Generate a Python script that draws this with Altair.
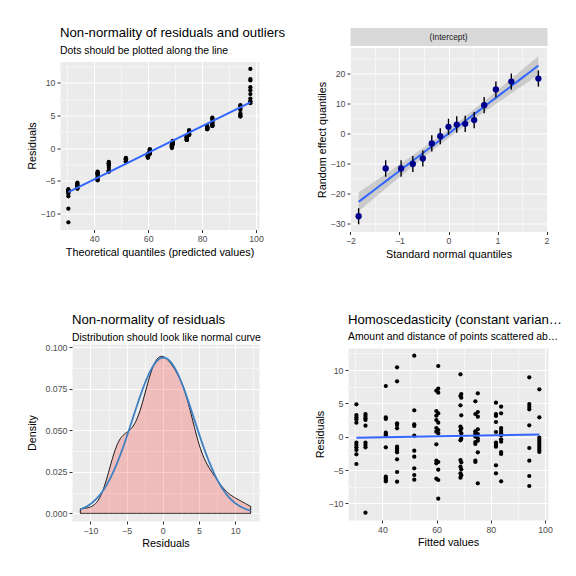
import altair as alt
import pandas as pd
import numpy as np

FONT = "Liberation Sans"

# ---------------- data ----------------
# fitted value of each group (x of the vertical point columns)
group_fitted = [30.4, 33.75, 41.25, 45.4, 51.75, 59.9, 60.6, 68.8, 69.1,
                74.3, 75.2, 81.9, 83.8, 94.2, 97.9]
# residuals of the observations in each group
group_residuals = [
    [4.85, 3.25, 2.9, 2.6, 2.1, -0.9, -1.25, -1.6, -2.0, -2.65, -4.1],
    [3.4, 3.1, 2.75, 2.5, 1.65, -0.9, -1.25, -1.6, -11.4],
    [7.6, 2.9, 2.65, 0.6, 0.4, 0.2, -1.6, -6.0, -6.25, -6.5, -6.7],
    [10.4, 8.3, 2.0, 1.75, 1.25, -1.5, -1.8, -2.1, -2.35, -3.4, -5.3, -6.75],
    [12.15, 3.95, 1.85, 1.6, 0.15, -2.1, -3.0, -4.75, -5.75, -6.45],
    [6.9, 3.85, 3.15, 2.5, 1.3, 0.75, -1.15, -3.6, -4.0, -6.3],
    [10.6, 7.2, 6.6, 3.5, 2.1, 1.0, 0.5, -3.8, -4.95, -6.5, -9.3],
    [9.35, 6.1, 4.7, 1.5, 0.9, -0.55, -3.5, -4.5, -5.5, -6.15],
    [6.4, 5.85, 3.2, 1.25, 0.5, -0.3, -3.85, -4.9, -5.8],
    [5.3, 3.4, 0.3, 0.6, 0.8, 0.0, -0.8, -1.1, -3.6, -3.8],
    [6.5, 3.7, 3.0, 1.1, 0.4, -0.25, -0.6, -2.35, -7.0],
    [5.1, 3.4, 3.1, 2.2, 0.7, -0.9, -1.25, -1.5, -4.3, -5.5],
    [4.5, 3.5, 0.2, 1.3, 0.9, 0.5, -0.75, -0.4, -2.3, -2.6, -6.7],
    [8.9, 4.9, 4.5, 4.1, 1.7, -1.7, -3.6, -5.9, -7.4],
    [7.1, 2.9, -0.15, -0.5, -0.8, -1.1, -1.4, -1.7, -2.0, -2.3],
]

# random effects (Intercept): standard normal quantiles, estimates, error half-widths
re_quantiles = [-1.834, -1.282, -0.967, -0.728, -0.524, -0.341, -0.168, 0.0,
                0.168, 0.341, 0.524, 0.728, 0.967, 1.282, 1.834]
re_estimates = [-27.7, -11.7, -11.7, -10.2, -8.35, -3.3, -0.9, 2.25,
                3.0, 3.25, 4.5, 9.5, 14.75, 17.4, 18.4]
re_errors = [2.7, 2.75, 2.75, 2.7, 2.7, 2.75, 2.7, 2.7,
             2.75, 2.7, 2.7, 2.75, 2.7, 2.7, 2.7]
strip_label = "(Intercept)"

# ---------------- tables ----------------
fitted = [f for f, rs in zip(group_fitted, group_residuals) for _ in rs]
residuals = [r for rs in group_residuals for r in rs]
obs = pd.DataFrame({"fitted": fitted, "residual": residuals})
qq = pd.DataFrame({"x": sorted(fitted), "y": sorted(residuals)})

re_df = pd.DataFrame({"x": re_quantiles, "y": re_estimates,
                      "lo": [y - e for y, e in zip(re_estimates, re_errors)],
                      "hi": [y + e for y, e in zip(re_estimates, re_errors)]})
# lm fit with 95% confidence band (as stat_smooth(method = "lm"))
xq = np.array(re_quantiles); yq = np.array(re_estimates)
n = len(xq)
b1, b0 = np.polyfit(xq, yq, 1)
s = np.sqrt(np.sum((yq - (b0 + b1 * xq)) ** 2) / (n - 2))
sxx = np.sum((xq - xq.mean()) ** 2)
gx = np.linspace(xq.min(), xq.max(), 80)
fit = b0 + b1 * gx
se = s * np.sqrt(1 / n + (gx - xq.mean()) ** 2 / sxx)
t975 = 2.160  # t quantile, 13 df
band = pd.DataFrame({"x": gx, "fit": fit, "lo": fit - t975 * se, "hi": fit + t975 * se})

res = np.array(residuals)
iqr = np.subtract(*np.percentile(res, [75, 25]))
bw = 0.9 * min(res.std(ddof=1), iqr / 1.34) * len(res) ** (-0.2)
rmin, rmax = float(res.min()), float(res.max())

# ---------------- styling helpers ----------------
def ax(title, values, major, fmt=None, title_pad=3):
    kw = dict(title=title, values=values, grid=True, gridColor="white",
              gridWidth={"condition": {"test": major, "value": 1.1}, "value": 0.5},
              tickOpacity={"condition": {"test": major, "value": 1}, "value": 0},
              labelExpr=f"({major}) ? datum.label : ''",
              labelFlush=False, labelOverlap=False, domain=False,
              tickColor="#333333", tickSize=3, tickWidth=1,
              labelColor="#4D4D4D", labelFontSize=8.8, labelFont=FONT, labelPadding=2,
              titleFont=FONT, titleFontSize=10.8, titleFontWeight="normal",
              titleColor="black", titlePadding=title_pad)
    if fmt:
        kw["format"] = fmt
    return alt.Axis(**kw)

def ttl(text, sub, offset, limit=0):
    kw = dict(text=text, subtitle=sub, anchor="start", frame="group",
              font=FONT, fontSize=13.2, fontWeight="normal", color="black",
              subtitleFont=FONT, subtitleFontSize=10.4, subtitleColor="black",
              subtitlePadding=5, offset=offset)
    if limit:
        kw["limit"] = limit
    return alt.TitleParams(**kw)

BG = alt.ViewBackground(fill="#EBEBEB", stroke="transparent")
NOBG = alt.ViewBackground(fill="transparent", stroke="transparent")
BLUE = "#3366FF"

def spacer(w, h):
    return alt.Chart(pd.DataFrame({"s": [0]})).mark_point(size=0, opacity=0).properties(
        width=w, height=h, view=NOBG)

res_x_vals = [30, 40, 50, 60, 70, 80, 90, 100]
res_y_vals = [-10, -7.5, -5, -2.5, 0, 2.5, 5, 7.5, 10, 12.5]
maj20 = "datum.value % 20 === 0"
maj5 = "datum.value % 5 === 0"

# ---------------- panel 1: QQ of residuals ----------------
x1 = alt.X("x:Q", scale=alt.Scale(domain=[27.3, 101.1], nice=False, zero=False),
           axis=ax("Theoretical quantiles (predicted values)", res_x_vals, maj20))
y1 = alt.Y("y:Q", scale=alt.Scale(domain=[-12.5, 13.3], nice=False, zero=False),
           axis=ax("Residuals", res_y_vals, maj5))
p1_pts = alt.Chart(qq).mark_circle(size=18, color="black", opacity=1).encode(x=x1, y=y1)
p1_line = alt.Chart(qq).transform_regression("x", "y").mark_line(
    color=BLUE, strokeWidth=2).encode(x=x1, y=y1)
p1 = alt.layer(p1_pts, p1_line).properties(
    width=199, height=168, view=BG,
    title=ttl("Non-normality of residuals and outliers",
              "Dots should be plotted along the line", offset=4.5))

# ---------------- panel 2: random effects QQ ----------------
x2 = alt.X("x:Q", scale=alt.Scale(domain=[-2.01, 2.01], nice=False, zero=False),
           axis=ax("Standard normal quantiles", [-2, -1.5, -1, -0.5, 0, 0.5, 1, 1.5, 2],
                   "datum.value % 1 === 0", ".0f"))
y2ax = ax("Random effect quantiles", list(range(-30, 30, 5)), "datum.value % 10 === 0")
y2sc = alt.Scale(domain=[-32.8, 28.8], nice=False, zero=False)
p2_band = alt.Chart(band).mark_area(color="#999999", opacity=0.4).encode(
    x=x2, y=alt.Y("lo:Q", scale=y2sc, axis=y2ax), y2="hi:Q")
p2_line = alt.Chart(band).mark_line(color=BLUE, strokeWidth=2).encode(
    x=x2, y=alt.Y("fit:Q", scale=y2sc, axis=y2ax))
p2_err = alt.Chart(re_df).mark_rule(color="black", strokeWidth=1.4).encode(
    x=x2, y=alt.Y("lo:Q", scale=y2sc, axis=y2ax), y2="hi:Q")
p2_pts = alt.Chart(re_df).mark_circle(size=40, color="#00008B", opacity=1).encode(
    x=x2, y=alt.Y("y:Q", scale=y2sc, axis=y2ax))
p2 = alt.layer(p2_band, p2_line, p2_err, p2_pts).properties(width=197, height=184, view=BG)

strip = alt.Chart(pd.DataFrame({"label": [strip_label]})).mark_text(
    font=FONT, fontSize=8.4, color="#1A1A1A", baseline="middle").encode(
    text="label:N").properties(width=197, height=18,
                               view=alt.ViewBackground(fill="#D9D9D9", stroke="transparent"))

# ---------------- panel 3: density ----------------
x3 = alt.X("value:Q", scale=alt.Scale(domain=[-12.55, 13.3], nice=False, zero=False),
           axis=ax("Residuals", [-10, -7.5, -5, -2.5, 0, 2.5, 5, 7.5, 10, 12.5], maj5))
y3 = alt.Y("density:Q", scale=alt.Scale(domain=[-0.0046, 0.102], nice=False, zero=False),
           axis=ax("Density", [0, 0.0125, 0.025, 0.0375, 0.05, 0.0625, 0.075, 0.0875, 0.1],
                   "abs(datum.value*40 - round(datum.value*40)) < 1e-6", ".3f", title_pad=7.7))
p3_dens = alt.Chart(obs).transform_density(
    "residual", as_=["value", "density"], extent=[rmin, rmax], bandwidth=float(bw),
    steps=200).mark_area(fill="red", fillOpacity=0.2, stroke="black", strokeWidth=0.9).encode(
    x=x3, y=y3)
p3_norm = alt.Chart(obs).transform_joinaggregate(
    mu="mean(residual)", sd="stdev(residual)").transform_density(
    "residual", groupby=["mu", "sd"], as_=["value", "d"], extent=[rmin, rmax], steps=101
).transform_calculate(
    density="exp(-0.5*pow((datum.value-datum.mu)/datum.sd,2))/(datum.sd*sqrt(2*PI))"
).mark_line(color="#3F80C2", strokeWidth=1.8).encode(x=x3, y=y3)
p3 = alt.layer(p3_dens, p3_norm).properties(
    width=187, height=177, view=BG,
    title=ttl("Non-normality of residuals", "Distribution should look like normal curve",
              offset=-0.7))

# ---------------- panel 4: homoscedasticity ----------------
x4 = alt.X("fitted:Q", scale=alt.Scale(domain=[27.3, 101.1], nice=False, zero=False),
           axis=ax("Fitted values", res_x_vals, maj20))
y4 = alt.Y("residual:Q", scale=alt.Scale(domain=[-12.5, 13.3], nice=False, zero=False),
           axis=ax("Residuals", res_y_vals, maj5))
p4_pts = alt.Chart(obs).mark_circle(size=18, color="black", opacity=1).encode(x=x4, y=y4)
p4_line = alt.Chart(obs).transform_regression("fitted", "residual").mark_line(
    color=BLUE, strokeWidth=2).encode(x=x4, y=y4)
p4 = alt.layer(p4_pts, p4_line).properties(
    width=200, height=172, view=BG,
    title=ttl("Homoscedasticity (constant variance of residuals)",
              "Amount and distance of points scattered above/below line",
              offset=4.7, limit=216))

# ---------------- layout ----------------
p1col = alt.vconcat(spacer(199, 3), p1, spacing=0)
p2col = alt.vconcat(spacer(197, 4), strip, p2, spacing=0)
row1 = alt.hconcat(spacer(1, 1), alt.hconcat(p1col, p2col, spacing=29), spacing=0)
p3col = alt.vconcat(spacer(187, 1), p3, spacing=0)
p4col = alt.vconcat(spacer(200, 1), p4, spacing=0)
row2 = alt.hconcat(spacer(1, 1), alt.hconcat(p3col, p4col, spacing=51), spacing=0)
chart = alt.concat(row1, row2, columns=1, align="none", spacing=48.5).properties(
    padding={"left": 14, "top": 12.5, "right": 0, "bottom": 0}
).configure(background="white").configure_axis(labelOverlap=False)

chart.save("out.html", embed_options={"renderer": "svg", "actions": False})
